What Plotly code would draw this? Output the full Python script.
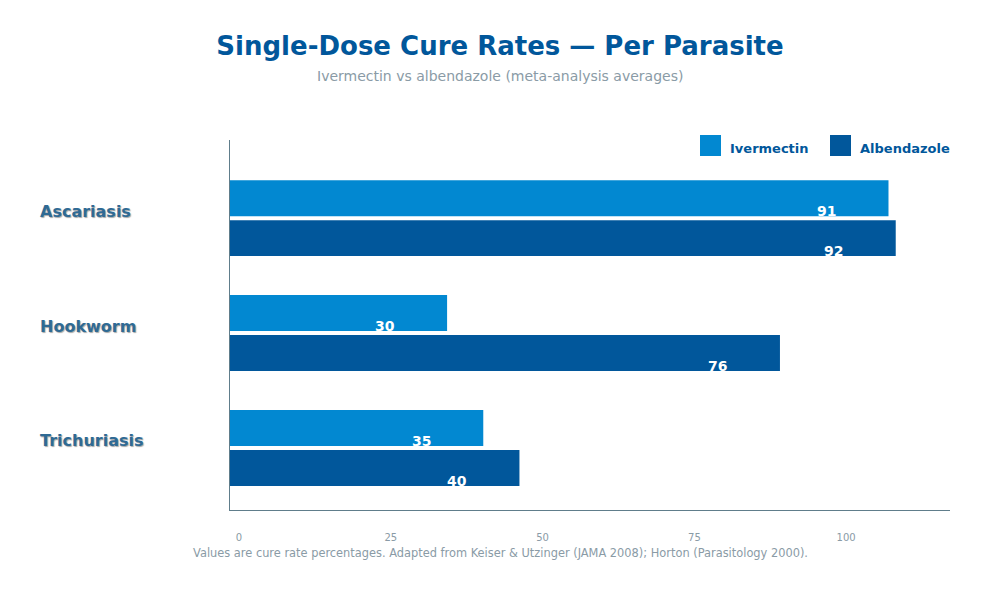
import plotly.graph_objects as go

# ---- data ----
categories = ["Ascariasis", "Hookworm", "Trichuriasis"]
ivermectin = [91, 30, 35]
albendazole = [92, 76, 40]
series_names = ["Ivermectin", "Albendazole"]
tick_values = [0, 25, 50, 75, 100]
tick_labels = ["0", "25", "50", "75", "100"]

title = "Single-Dose Cure Rates — Per Parasite"
subtitle = "Ivermectin vs albendazole (meta-analysis averages)"
caption = ("Values are cure rate percentages. Adapted from Keiser & Utzinger "
           "(JAMA 2008); Horton (Parasitology 2000).")

# ---- style ----
C_IVER = "#0288d1"
C_ALB = "#01579b"
AXIS_C = "#607d8b"
GREY = "#8a9ba6"
FONT = "DejaVu Sans"

W, H = 1000, 600
L, R, T, B = 230, 50, 140, 90
PW, PH = W - L - R, H - T - B


def px_x(x):
    return (x - L) / PW


def px_y(y):
    return (H - B - y) / PH


fig = go.Figure()
fig.add_trace(go.Bar(y=categories, x=ivermectin, name=series_names[0], orientation="h",
                     marker=dict(color=C_IVER, line=dict(width=0)), hoverinfo="x+y"))
fig.add_trace(go.Bar(y=categories, x=albendazole, name=series_names[1], orientation="h",
                     marker=dict(color=C_ALB, line=dict(width=0)), hoverinfo="x+y"))
# invisible trace to carry the tick-label axis
fig.add_trace(go.Scatter(x=[tick_values[0], tick_values[-1]], y=[categories[0]] * 2,
                         xaxis="x2", mode="markers", marker=dict(opacity=0),
                         hoverinfo="skip", showlegend=False))

annotations = []
# value labels
for vals, yshift in ((ivermectin, -3), (albendazole, -43)):
    for cat, v in zip(categories, vals):
        annotations.append(dict(x=v, y=cat, xref="x", yref="y", text=str(v),
                                showarrow=False, xanchor="center", yanchor="bottom",
                                xshift=-62, yshift=yshift,
                                font=dict(family=FONT, size=14, color="white", weight="bold")))
# category labels
for cat in categories:
    annotations.append(dict(x=px_x(38), y=cat, xref="paper", yref="y", text=cat,
                            showarrow=False, xanchor="left", yanchor="middle", yshift=7,
                            font=dict(family=FONT, size=16, color="#2f6a94", weight="bold",
                                      shadow="1px 1px 1px rgba(0,0,0,0.35)")))
# subtitle
annotations.append(dict(x=0.5, y=px_y(76), xref="paper", yref="paper", text=subtitle,
                        showarrow=False, xanchor="center", yanchor="middle",
                        xshift=(W / 2 - (L + PW / 2)),
                        font=dict(family=FONT, size=14, color=GREY)))
# caption
annotations.append(dict(x=0.5, y=px_y(553), xref="paper", yref="paper", text=caption,
                        showarrow=False, xanchor="center", yanchor="middle",
                        xshift=(W / 2 - (L + PW / 2)),
                        font=dict(family=FONT, size=11.4, color=GREY)))
# legend
shapes = []
for name, color, sx in ((series_names[0], C_IVER, 700), (series_names[1], C_ALB, 830)):
    shapes.append(dict(type="rect", xref="paper", yref="paper",
                       x0=px_x(sx), x1=px_x(sx + 21), y0=px_y(156), y1=px_y(135),
                       fillcolor=color, line=dict(width=0)))
    annotations.append(dict(x=px_x(sx + 28), y=px_y(148), xref="paper", yref="paper",
                            text=name, showarrow=False, xanchor="left", yanchor="middle",
                            font=dict(family=FONT, size=13, color=C_ALB, weight="bold")))

fig.update_layout(
    width=W, height=H,
    margin=dict(l=L, r=R, t=T, b=B),
    paper_bgcolor="white", plot_bgcolor="white",
    barmode="group", bargap=0.304, bargroupgap=0.1,
    showlegend=False,
    title=dict(text=title, x=0.5, xref="container", xanchor="center",
               y=1 - 46 / H, yref="container", yanchor="middle",
               font=dict(family=FONT, size=26, color=C_ALB, weight="bold")),
    xaxis=dict(range=[0, 99.5], showticklabels=False, showgrid=False, zeroline=False,
               showline=True, linecolor=AXIS_C, linewidth=1, ticks=""),
    xaxis2=dict(overlaying="x", anchor="y", side="bottom", range=[-1.48, 117.1],
                tickvals=tick_values, ticktext=tick_labels, showgrid=False,
                zeroline=False, showline=False, ticks="outside", ticklen=18,
                tickcolor="rgba(0,0,0,0)",
                tickfont=dict(family=FONT, size=10, color=GREY)),
    yaxis=dict(type="category", range=[2.54, -0.68], showticklabels=False,
               showgrid=False, zeroline=False, showline=True, linecolor=AXIS_C,
               linewidth=1, ticks=""),
    annotations=annotations,
    shapes=shapes,
    font=dict(family=FONT),
)

fig.write_html("out.html")
